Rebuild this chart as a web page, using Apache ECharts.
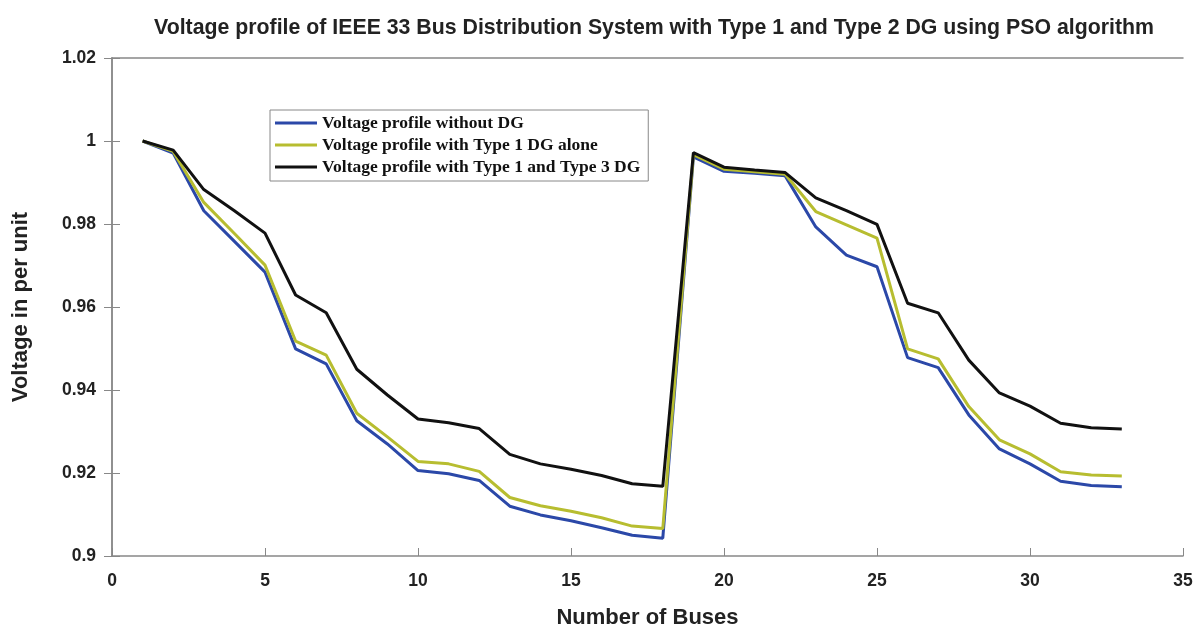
<!DOCTYPE html>
<html>
<head>
<meta charset="utf-8">
<script src="https://cdn.jsdelivr.net/npm/echarts@6/dist/echarts.min.js"></script>
<style>html,body{margin:0;padding:0;background:#fff}#c{width:1197px;height:628px}</style>
</head>
<body>
<div id="c"></div>
<script>
const buses = [1,2,3,4,5,6,7,8,9,10,11,12,13,14,15,16,17,18,19,20,21,22,23,24,25,26,27,28,29,30,31,32,33];
const withoutDG = [1.0,0.9971,0.9832,0.9758,0.9684,0.9499,0.9463,0.9326,0.9270,0.9206,0.9198,0.9182,0.9120,0.9099,0.9085,0.9068,0.9050,0.9043,0.9962,0.9927,0.9922,0.9916,0.9793,0.9725,0.9697,0.9478,0.9454,0.9340,0.9258,0.9222,0.9180,0.9170,0.9167];
const type1Alone = [1.0,0.9975,0.9852,0.9777,0.9701,0.9518,0.9484,0.9344,0.9287,0.9228,0.9222,0.9204,0.9141,0.9121,0.9108,0.9092,0.9072,0.9066,0.9967,0.9932,0.9926,0.9920,0.9830,0.9798,0.9766,0.9499,0.9475,0.9360,0.9280,0.9246,0.9203,0.9195,0.9193];
const type1Type3 = [1.0,0.9978,0.9883,0.9832,0.9778,0.9629,0.9586,0.9450,0.9388,0.9330,0.9321,0.9307,0.9245,0.9222,0.9209,0.9194,0.9174,0.9168,0.9972,0.9937,0.9930,0.9924,0.9863,0.9832,0.9799,0.9609,0.9586,0.9472,0.9393,0.9361,0.9320,0.9309,0.9306];
const seriesNames = ['Voltage profile without DG','Voltage profile with Type 1 DG alone','Voltage profile with Type 1 and Type 3 DG'];
const xTicks = [0,5,10,15,20,25,30,35];
const yTicks = [0.9,0.92,0.94,0.96,0.98,1,1.02];

const colors = ['#2b48a8','#b7bd30','#111111'];
const pair = arr => buses.map((b,i)=>[b,arr[i]]);
const axisFont = {fontFamily:'Liberation Sans, Arial', fontWeight:'bold', fontSize:17.5, color:'#222'};
const chart = echarts.init(document.getElementById('c'));
chart.setOption({
  animation:false,
  backgroundColor:'#fff',
  title:{text:'Voltage profile of IEEE 33 Bus Distribution System with Type 1 and Type 2 DG using PSO algorithm',
    left:649, textAlign:'center', top:13,
    textStyle:{fontFamily:'Liberation Sans, Arial', fontWeight:'bold', fontSize:21.3, color:'#222'}},
  legend:{orient:'vertical', left:270, top:110, itemWidth:42, itemHeight:3, itemGap:4,
    padding:[4,8,5,5], borderColor:'#888', borderWidth:1, backgroundColor:'#fff',
    icon:'rect',
    textStyle:{fontFamily:'Liberation Serif, Times New Roman', fontWeight:'bold', fontSize:17.5, color:'#111'},
    data:seriesNames},
  grid:{left:112, right:14, top:58, bottom:72, containLabel:false, outerBoundsMode:'none'},
  xAxis:[{type:'value', min:0, max:35, interval:5,
    name:'Number of Buses', nameLocation:'middle', nameGap:51,
    nameTextStyle:{fontFamily:'Liberation Sans, Arial', fontWeight:'bold', fontSize:22, color:'#222'},
    axisLine:{onZero:false, lineStyle:{color:'#888', width:1.5}},
    axisTick:{inside:true, length:8, lineStyle:{color:'#888'}},
    axisLabel:Object.assign({margin:16}, axisFont),
    splitLine:{show:false}},
    {type:'value', position:'top', min:0, max:35, interval:5,
    axisLine:{show:true, lineStyle:{color:'#888', width:1.5}},
    axisTick:{show:false}, axisLabel:{show:false}, splitLine:{show:false}}],
  yAxis:[{type:'value', min:0.9, max:1.02, interval:0.02,
    name:'Voltage in per unit', nameLocation:'middle', nameGap:80, nameRotate:90,
    nameTextStyle:{fontFamily:'Liberation Sans, Arial', fontWeight:'bold', fontSize:22, color:'#222'},
    axisLine:{lineStyle:{color:'#888', width:1.5}},
    axisTick:{inside:true, length:8, lineStyle:{color:'#888'}},
    axisLabel:Object.assign({margin:16, formatter:v=>String(+v.toFixed(2))}, axisFont),
    splitLine:{show:false}},
    {type:'value', position:'right', min:0.9, max:1.02, interval:0.02,
    axisLine:{show:true, lineStyle:{color:'#888', width:1.5}},
    axisTick:{show:true, inside:true, length:8, lineStyle:{color:'#888'}},
    axisLabel:{show:false}, splitLine:{show:false}}],
  series:[
    {name:seriesNames[0], type:'line', data:pair(withoutDG), showSymbol:false, symbol:'none', lineStyle:{width:3, color:colors[0]}, itemStyle:{color:colors[0]}},
    {name:seriesNames[1], type:'line', data:pair(type1Alone), showSymbol:false, symbol:'none', lineStyle:{width:3, color:colors[1]}, itemStyle:{color:colors[1]}},
    {name:seriesNames[2], type:'line', data:pair(type1Type3), showSymbol:false, symbol:'none', lineStyle:{width:3, color:colors[2]}, itemStyle:{color:colors[2]}}
  ]
});
</script>
</body>
</html>
